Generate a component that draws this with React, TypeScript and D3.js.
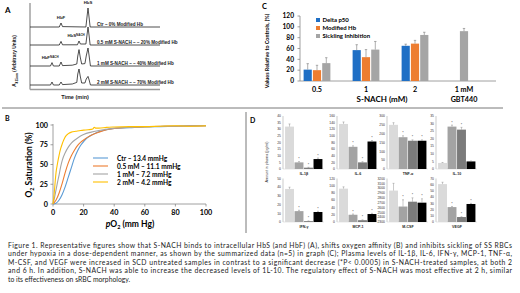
import React from "react";
import * as d3 from "d3";

// ---------- Panel A: chromatograms ----------
const traceLabels = [
  "Ctr – 0% Modified Hb",
  "0.5 mM S-NACH – ~ 20% Modified Hb",
  "1 mM S-NACH – ~ 40% Modified Hb",
  "2 mM S-NACH – ~ 70% Modified Hb",
];
const traceBaselines = [3.05, 2.15, 1.1, 0.15];
const traceCtr: [number, number][] = [[0,3.05],[9.0,3.05],[9.54,3.25],[10.0,3.07],[17.2,3.05],[17.5,3.5],[17.85,4.0],[18.2,3.5],[18.5,3.05],[40,3.05]];
const trace05: [number, number][] = [[0,2.15],[9.0,2.15],[9.54,2.33],[10.0,2.16],[14.6,2.16],[15.08,2.35],[15.5,2.2],[17.2,2.2],[17.5,2.6],[17.85,3.05],[18.2,2.6],[18.5,2.15],[40,2.15]];
const trace1: [number, number][] = [[0,1.1],[6.3,1.1],[6.77,1.27],[7.2,1.1],[9.0,1.1],[9.54,1.3],[10.0,1.12],[13,1.14],[14.4,1.2],[14.7,1.6],[15.08,1.92],[15.45,1.55],[15.9,1.2],[16.9,1.22],[17.3,1.6],[17.85,2.0],[18.2,1.6],[18.6,1.1],[40,1.1]];
const trace2: [number, number][] = [[0,0.15],[6.3,0.15],[6.77,0.3],[7.2,0.15],[9.0,0.15],[9.54,0.3],[10.0,0.17],[13,0.2],[14.4,0.28],[14.7,0.7],[15.08,0.95],[15.45,0.6],[15.9,0.25],[16.9,0.25],[17.3,0.45],[17.85,0.58],[18.2,0.4],[18.6,0.15],[40,0.15]];
const traces = [traceCtr, trace05, trace1, trace2];
const peakNames = ["HbS", "HbF", "HbS", "HbF"];
const peakSups = ["", "", "NACH", "NACH"];
const peakTimes = [17.85, 9.54, 14.2, 6.2];
const peakLevels = [4.2, 3.45, 2.55, 1.45];

// ---------- Panel B: O2 equilibrium curves ----------
const curveNames = ["Ctr – 13.4 mmHg", "0.5 mM – 11.1 mmHg", "1 mM – 7.2 mmHg", "2 mM – 4.2 mmHg"];
const curveColors = ["#5B9BD5", "#ED7D31", "#A5A5A5", "#FFC000"];
const curveCtr: [number, number][] = [[0,0],[2,1],[4,5],[6,12],[8,22],[10,34],[12,46],[14,58],[16,67],[18,74],[20,79],[22,83],[25,87],[28,90],[30,91.5],[35,94],[40,95.5],[50,96.5],[60,97.5],[70,98],[80,98.5],[90,99],[100,99]];
const curve05: [number, number][] = [[0,0],[2,5],[4,14],[6,26],[8,40],[10,52],[12,61],[14,68],[16,74],[18,78],[20,81],[23,85],[26,88],[30,91],[35,94],[40,95.5],[50,97],[60,98],[80,98.5],[100,99]];
const curve1: [number, number][] = [[0,0],[1,8],[2,18],[3,28],[4,37],[5,47],[6,55],[8,65],[10,72],[12,77],[15,82],[18,86],[20,88],[25,91],[30,93],[40,96],[50,97],[60,98],[80,98.5],[100,99]];
const curve2: [number, number][] = [[0,0],[0.5,8],[1,18],[1.5,30],[2,40],[3,52],[4,62],[5,70],[6,76],[7,81],[8,85],[10,89],[12,91],[15,92],[18,93],[20,93.5],[23,94],[26,95],[27,97],[28,96],[30,96],[35,97],[40,97.5],[50,98],[60,98],[70,98.5],[80,99],[90,98.5],[100,99]];
const curves = [curveCtr, curve05, curve1, curve2];
const bXTicks = [0, 20, 40, 60, 80, 100];
const bYTicks = [0, 25, 50, 75, 100];

// ---------- Panel C: summary bars ----------
const cCategories = ["0.5", "1", "2", "1 mM"];
const cCategorySub = ["", "", "", "GBT440"];
const cSeries = ["Delta p50", "Modified Hb", "Sickling Inhibition"];
const cColors = ["#1F6FC5", "#ED7D31", "#A5A5A5"];
const deltaP50 = [21, 57, 65, null];
const modifiedHb = [20, 44, 69, null];
const sicklingInh = [33, 58, 85, 92];
const deltaP50Err = [11, 10, 3, null];
const modifiedHbErr = [9, 14, 6, null];
const sicklingErr = [10, 15, 5, 5];
const cYTicks = [0, 20, 40, 60, 80, 100, 120];

// ---------- Panel D: cytokines ----------
const dNames = ["IL-1β", "IL-6", "TNF-α", "IL-10", "IFN-γ", "MCP-1", "M-CSF", "VEGF"];
const dDomains: [number, number][] = [[0,40],[0,160],[0,300],[0,35],[0,50],[0,120],[2300,3200],[0,70]];
const dSteps = [5, 20, 50, 5, 10, 20, 100, 10];
const dValues = [
  [32, 5, 1, 7.5],
  [136, 67, 20, 83],
  [250, 180, 160, 160],
  [4, 28, 26, 5],
  [38, 12.5, 1, 11.5],
  [92, 20, 5, 22],
  [2950, 2620, 2720, 2700],
  [61, 24, 8, 29],
];
const dErrors = [
  [2, 0.6, 0.3, 0.8],
  [6, 3, 2, 3],
  [12, 8, 5, 5],
  [0.3, 1, 1.5, 0.3],
  [2, 1, 0.3, 0.8],
  [5, 2, 1, 2],
  [150, 140, 80, 80],
  [3, 1, 0.5, 1],
];
const dStars = [
  [0,1,1,1],[0,1,1,1],[0,1,1,1],[0,1,1,0],
  [0,1,1,1],[0,1,1,1],[0,1,1,1],[0,1,1,1],
];
const dBarColors = ["#dadada", "#a3a3a3", "#7b7b7b", "#000000"];

// ---------- Caption ----------
const captionLines = [
  "Figure 1. Representative figures show that S-NACH binds to intracellular HbS (and HbF) (A), shifts oxygen affinity (B) and inhibits sickling of SS RBCs",
  "under hypoxia in a dose-dependent manner, as shown by the summarized data (n=5) in graph (C); Plasma levels of IL-1β, IL-6, IFN-γ, MCP-1, TNF-α,",
  "M-CSF, and VEGF were increased in SCD untreated samples in contrast to a significant decrease (*P< 0.0005) in S-NACH-treated samples, at both 2",
  "and 6 h. In addition, S-NACH was able to increase the decreased levels of 1L-10. The regulatory effect of S-NACH was most effective at 2 h, similar",
  "to its effectiveness on sRBC morphology.",
];

const SANS = "Lato, 'Liberation Sans', sans-serif";
const ARIAL = "'Liberation Sans', Arial, sans-serif";

function PanelA() {
  const x = d3.scaleLinear().domain([0, 40]).range([30, 160]);
  const y = d3.scaleLinear().domain([0, 4.3]).range([88, 2]);
  const line = d3.line<[number, number]>().x(d => x(d[0])).y(d => y(d[1]));
  return (
    <g fontFamily={ARIAL}>
      <text x={5} y={13} fontSize={8} fontWeight="bold" fontFamily={SANS}>A</text>
      <line x1={30} y1={3} x2={30} y2={89.5} stroke="#9a9a9a" strokeWidth={1.4} />
      <line x1={30} y1={89.5} x2={160} y2={89.5} stroke="#9a9a9a" strokeWidth={1.4} />
      {traces.map((t, i) => (
        <path key={i} d={line(t) || ""} fill="none" stroke="#222" strokeWidth={0.8} />
      ))}
      {traceLabels.map((l, i) => (
        <text key={i} x={97} y={y(traceBaselines[i]) - 1.2} fontSize={4.6} fontWeight="bold" fill="#222">{l}</text>
      ))}
      {peakNames.map((n, i) => (
        <text key={i} x={x(peakTimes[i])} y={y(peakLevels[i])} fontSize={4.3} fontWeight="bold" textAnchor="middle" fill="#222">
          {n}
          {peakSups[i] ? <tspan fontSize={3} dy={-1.5}>{peakSups[i]}</tspan> : null}
        </text>
      ))}
      <text x={75} y={99} fontSize={5.5} fontWeight="bold" textAnchor="middle" fill="#222">Time (min)</text>
      <text transform="translate(16,61) rotate(-90)" fontSize={4.8} fontWeight="bold" textAnchor="middle" fill="#222">
        A<tspan fontSize={3.2} dy={1.5}>415nm</tspan><tspan dy={-1.5}> (Arbitrary Units)</tspan>
      </text>
    </g>
  );
}

function PanelB() {
  const x = d3.scaleLinear().domain([0, 100]).range([53, 206]);
  const y = d3.scaleLinear().domain([0, 100]).range([204, 125]);
  const line = d3.line<[number, number]>().x(d => x(d[0])).y(d => y(d[1])).curve(d3.curveMonotoneX);
  return (
    <g fontFamily={SANS}>
      <text x={5} y={121} fontSize={7} fontWeight="bold">B</text>
      <line x1={53} y1={y(100) - 1} x2={53} y2={204} stroke="#888" strokeWidth={0.8} />
      <line x1={53} y1={204} x2={206} y2={204} stroke="#888" strokeWidth={0.8} />
      {bYTicks.map(t => (
        <g key={t}>
          <line x1={50.5} x2={53} y1={y(t)} y2={y(t)} stroke="#888" strokeWidth={0.8} />
          <text x={48} y={y(t) + 2.5} fontSize={7.2} fontWeight="bold" textAnchor="end">{t}</text>
        </g>
      ))}
      {bXTicks.map(t => (
        <g key={t}>
          <line x1={x(t)} x2={x(t)} y1={204} y2={206.5} stroke="#888" strokeWidth={0.8} />
          <text x={x(t)} y={215} fontSize={7.2} fontWeight="bold" textAnchor="middle">{t}</text>
        </g>
      ))}
      {curves.map((c, i) => (
        <path key={i} d={line(c) || ""} fill="none" stroke={curveColors[i]} strokeWidth={1.1} />
      ))}
      {curveNames.map((n, i) => (
        <g key={i}>
          <line x1={93} x2={108} y1={158 + i * 8} y2={158 + i * 8} stroke={curveColors[i]} strokeWidth={1.1} />
          <text x={117} y={160.5 + i * 8} fontSize={6.6} fontWeight="bold">{n}</text>
        </g>
      ))}
      <text x={130} y={227} fontSize={8.5} fontWeight="bold" textAnchor="middle">
        <tspan fontStyle="italic">p</tspan>O<tspan fontSize={5.5} dy={2}>2</tspan><tspan dy={-2}> (mm Hg)</tspan>
      </text>
      <text transform="translate(32,165) rotate(-90)" fontSize={8.5} fontWeight="bold" textAnchor="middle">
        O<tspan fontSize={5.5} dy={2}>2</tspan><tspan dy={-2}> Saturation (%)</tspan>
      </text>
    </g>
  );
}

function PanelC() {
  const x0 = d3.scaleBand<string>().domain(cCategories).range([292.5, 488.5]);
  const x1 = d3.scaleBand<string>().domain(cSeries).range([-14.5, 14.5]).padding(0.12);
  const y = d3.scaleLinear().domain([0, 120]).range([81, 16]);
  const series = [deltaP50, modifiedHb, sicklingInh];
  const errs = [deltaP50Err, modifiedHbErr, sicklingErr];
  return (
    <g fontFamily={SANS}>
      <text x={262} y={9} fontSize={7.5} fontWeight="bold">C</text>
      <line x1={300} x2={300} y1={y(120)} y2={y(0)} stroke="#888" strokeWidth={0.8} />
      <line x1={300} x2={496} y1={y(0)} y2={y(0)} stroke="#888" strokeWidth={0.8} />
      {cYTicks.map(t => (
        <g key={t}>
          <line x1={297.5} x2={300} y1={y(t)} y2={y(t)} stroke="#888" strokeWidth={0.8} />
          <text x={294} y={y(t) + 2.3} fontSize={6.6} fontWeight="bold" textAnchor="end">{t}</text>
        </g>
      ))}
      {cCategories.map((c, ci) => {
        const cx = (x0(c) || 0) + x0.bandwidth() / 2;
        const present = series.map(s => s[ci] != null);
        const count = present.filter(Boolean).length;
        return (
          <g key={c}>
            {series.map((s, si) => {
              const v = s[ci];
              if (v == null) return null;
              const bx = count === 1 ? cx - x1.bandwidth() / 2 : cx + (x1(cSeries[si]) || 0);
              const e = errs[si][ci] || 0;
              const mx = bx + x1.bandwidth() / 2;
              return (
                <g key={si}>
                  <rect x={bx} y={y(v)} width={x1.bandwidth()} height={y(0) - y(v)} fill={cColors[si]} />
                  <line x1={mx} x2={mx} y1={y(v)} y2={y(v + e)} stroke="#8a8a8a" strokeWidth={0.7} />
                  <line x1={mx - 1.2} x2={mx + 1.2} y1={y(v + e)} y2={y(v + e)} stroke="#8a8a8a" strokeWidth={0.7} />
                </g>
              );
            })}
            <text x={cx} y={92} fontSize={7.2} fontWeight="bold" textAnchor="middle">{c}</text>
            {cCategorySub[ci] ? <text x={cx} y={101.5} fontSize={7.2} fontWeight="bold" textAnchor="middle">{cCategorySub[ci]}</text> : null}
          </g>
        );
      })}
      <text x={382} y={101.5} fontSize={8} fontWeight="bold" textAnchor="middle">S-NACH (mM)</text>
      <text transform="translate(269,51) rotate(-90)" fontSize={5.4} fontWeight="bold" textAnchor="middle">Values Relative to Controls, (%)</text>
      {cSeries.map((s, i) => (
        <g key={s}>
          <rect x={316} y={18 + i * 8} width={4} height={4} fill={cColors[i]} />
          <text x={322.5} y={22 + i * 8} fontSize={6} fontWeight="bold">{s}</text>
        </g>
      ))}
    </g>
  );
}

function PanelD() {
  const axisXs = [283, 337, 387, 436];
  const rows = [[169, 116], [222, 178.5]];
  return (
    <g fontFamily={ARIAL}>
      <text x={250} y={123} fontSize={7} fontWeight="bold" fontFamily={SANS}>D</text>
      <text transform="translate(268,162) rotate(-90)" fontSize={3.6} textAnchor="middle" fill="#333">Amount in plasma (pg/ml)</text>
      {dNames.map((name, i) => {
        const col = i % 4;
        const row = Math.floor(i / 4);
        const ax = axisXs[col];
        const y = d3.scaleLinear().domain(dDomains[i]).range(rows[row]);
        const xb = d3.scaleBand<number>().domain([0, 1, 2, 3]).range([ax + 1.5, ax + 40]).padding(0.06);
        const ticks = d3.range(dDomains[i][0], dDomains[i][1] + 0.001, dSteps[i]);
        return (
          <g key={name}>
            <line x1={ax} x2={ax} y1={rows[row][1]} y2={rows[row][0]} stroke="#aaa" strokeWidth={0.6} />
            <line x1={ax} x2={ax + 41} y1={rows[row][0]} y2={rows[row][0]} stroke="#ccc" strokeWidth={0.5} />
            {ticks.map(t => (
              <text key={t} x={ax - 2} y={y(t) + 1.2} fontSize={3.4} textAnchor="end" fill="#333">{t}</text>
            ))}
            {dValues[i].map((v, bi) => {
              const bx = xb(bi) || 0;
              const w = xb.bandwidth();
              const e = dErrors[i][bi];
              const mx = bx + w / 2;
              return (
                <g key={bi}>
                  <rect x={bx} y={y(v)} width={w} height={rows[row][0] - y(v)} fill={dBarColors[bi]} />
                  <line x1={mx} x2={mx} y1={y(v)} y2={y(v + e)} stroke="#777" strokeWidth={0.4} />
                  <line x1={mx - 1} x2={mx + 1} y1={y(v + e)} y2={y(v + e)} stroke="#777" strokeWidth={0.4} />
                  {dStars[i][bi] ? <text x={mx} y={y(v + e) - 1.5} fontSize={3.6} textAnchor="middle" fill="#333">*</text> : null}
                </g>
              );
            })}
            <text x={ax + 21} y={rows[row][0] + 5.5} fontSize={3.6} fontWeight="bold" textAnchor="middle" fill="#222">{name}</text>
          </g>
        );
      })}
    </g>
  );
}

function Caption() {
  return (
    <g fontFamily={SANS} fontSize={6.8} fill="#222">
      {captionLines.map((l, i) => (
        <text key={i} x={8} y={247.5 + i * 8.6}
          {...(i < captionLines.length - 1 ? { textLength: 504, lengthAdjust: "spacing" } : {})}>{l}</text>
      ))}
    </g>
  );
}

export default function App() {
  return (
    <svg width={520} height={293} style={{ position: "absolute", left: 0, top: 0, background: "#fff" }}>
      <rect width={520} height={293} fill="#fff" />
      <PanelA />
      <PanelB />
      <PanelC />
      <PanelD />
      <line x1={2} x2={503} y1={108} y2={108} stroke="#555" strokeWidth={0.8} />
      <line x1={246} x2={246} y1={112} y2={233} stroke="#555" strokeWidth={0.8} />
      <Caption />
    </svg>
  );
}
